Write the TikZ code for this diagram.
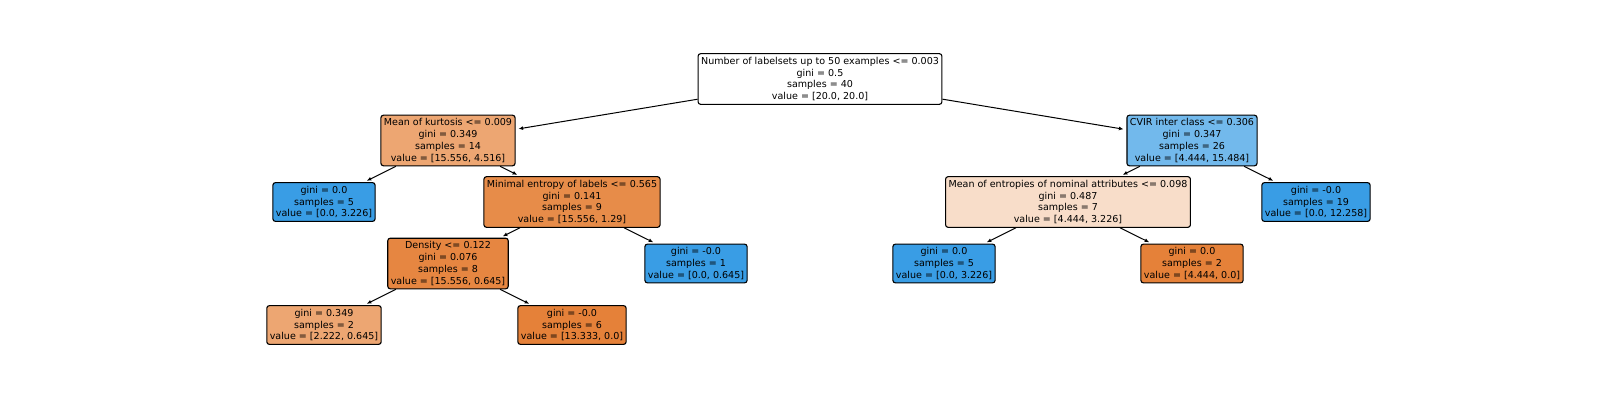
\documentclass[tikz,border=0pt]{standalone}
\usepackage{fontspec}
\setmainfont{DejaVu Sans}
\usetikzlibrary{arrows.meta}
\definecolor{LeafOrange}{RGB}{229,129,57}
\definecolor{LeafBlue}{RGB}{57,157,229}
\definecolor{KurtOrange}{RGB}{237,166,114}
\definecolor{EntrOrange}{RGB}{231,140,73}
\definecolor{DensOrange}{RGB}{230,134,65}
\definecolor{CvirBlue}{RGB}{114,185,236}
\definecolor{NomPeach}{RGB}{248,221,201}
\tikzset{
	>={Latex[length=4.5pt, width=4pt]},
	treenode/.style={draw=black, line width=1.1pt, rounded corners=2.5pt,
		align=center, inner xsep=3pt, inner ysep=3.2pt,
		font=\fontsize{9.55}{11.9}\selectfont},
	edge/.style={black, line width=1pt, ->, shorten >=3pt},
}

\begin{document}
\begin{tikzpicture}[x=1pt, y=-1pt]
		\useasboundingbox (0,0) rectangle (1600,400);
		
		% root
		\node[treenode, fill=white] (root) at (820,79)
		{Number of labelsets up to 50 examples <= 0.003\\gini = 0.5\\samples = 40\\value = [20.0, 20.0]};
		
		% level 1
		\node[treenode, fill=KurtOrange] (kurt) at (448,140.5)
		{Mean of kurtosis <= 0.009\\gini = 0.349\\samples = 14\\value = [15.556, 4.516]};
		\node[treenode, fill=CvirBlue] (cvir) at (1192,140.5)
		{CVIR inter class <= 0.306\\gini = 0.347\\samples = 26\\value = [4.444, 15.484]};
		
		% level 2
		\node[treenode, fill=LeafBlue] (leafA) at (324,202)
		{gini = 0.0\\samples = 5\\value = [0.0, 3.226]};
		\node[treenode, fill=EntrOrange] (entr) at (572,202)
		{Minimal entropy of labels <= 0.565\\gini = 0.141\\samples = 9\\value = [15.556, 1.29]};
		\node[treenode, fill=NomPeach] (nom) at (1068,202)
		{Mean of entropies of nominal attributes <= 0.098\\gini = 0.487\\samples = 7\\value = [4.444, 3.226]};
		\node[treenode, fill=LeafBlue] (leafB) at (1316,202)
		{gini = -0.0\\samples = 19\\value = [0.0, 12.258]};
		
		% level 3
		\node[treenode, fill=DensOrange] (dens) at (448,263.5)
		{Density <= 0.122\\gini = 0.076\\samples = 8\\value = [15.556, 0.645]};
		\node[treenode, fill=LeafBlue] (leafC) at (696,263.5)
		{gini = -0.0\\samples = 1\\value = [0.0, 0.645]};
		\node[treenode, fill=LeafBlue] (leafD) at (944,263.5)
		{gini = 0.0\\samples = 5\\value = [0.0, 3.226]};
		\node[treenode, fill=LeafOrange] (leafE) at (1192,263.5)
		{gini = 0.0\\samples = 2\\value = [4.444, 0.0]};
		
		% level 4
		\node[treenode, fill=KurtOrange] (leafF) at (324,325)
		{gini = 0.349\\samples = 2\\value = [2.222, 0.645]};
		\node[treenode, fill=LeafOrange] (leafG) at (572,325)
		{gini = -0.0\\samples = 6\\value = [13.333, 0.0]};
		
		% edges
		\draw[edge] (root) -- (kurt);
		\draw[edge] (root) -- (cvir);
		\draw[edge] (kurt) -- (leafA);
		\draw[edge] (kurt) -- (entr);
		\draw[edge] (entr) -- (dens);
		\draw[edge] (entr) -- (leafC);
		\draw[edge] (dens) -- (leafF);
		\draw[edge] (dens) -- (leafG);
		\draw[edge] (cvir) -- (nom);
		\draw[edge] (cvir) -- (leafB);
		\draw[edge] (nom) -- (leafD);
		\draw[edge] (nom) -- (leafE);
	\end{tikzpicture}
\end{document}
